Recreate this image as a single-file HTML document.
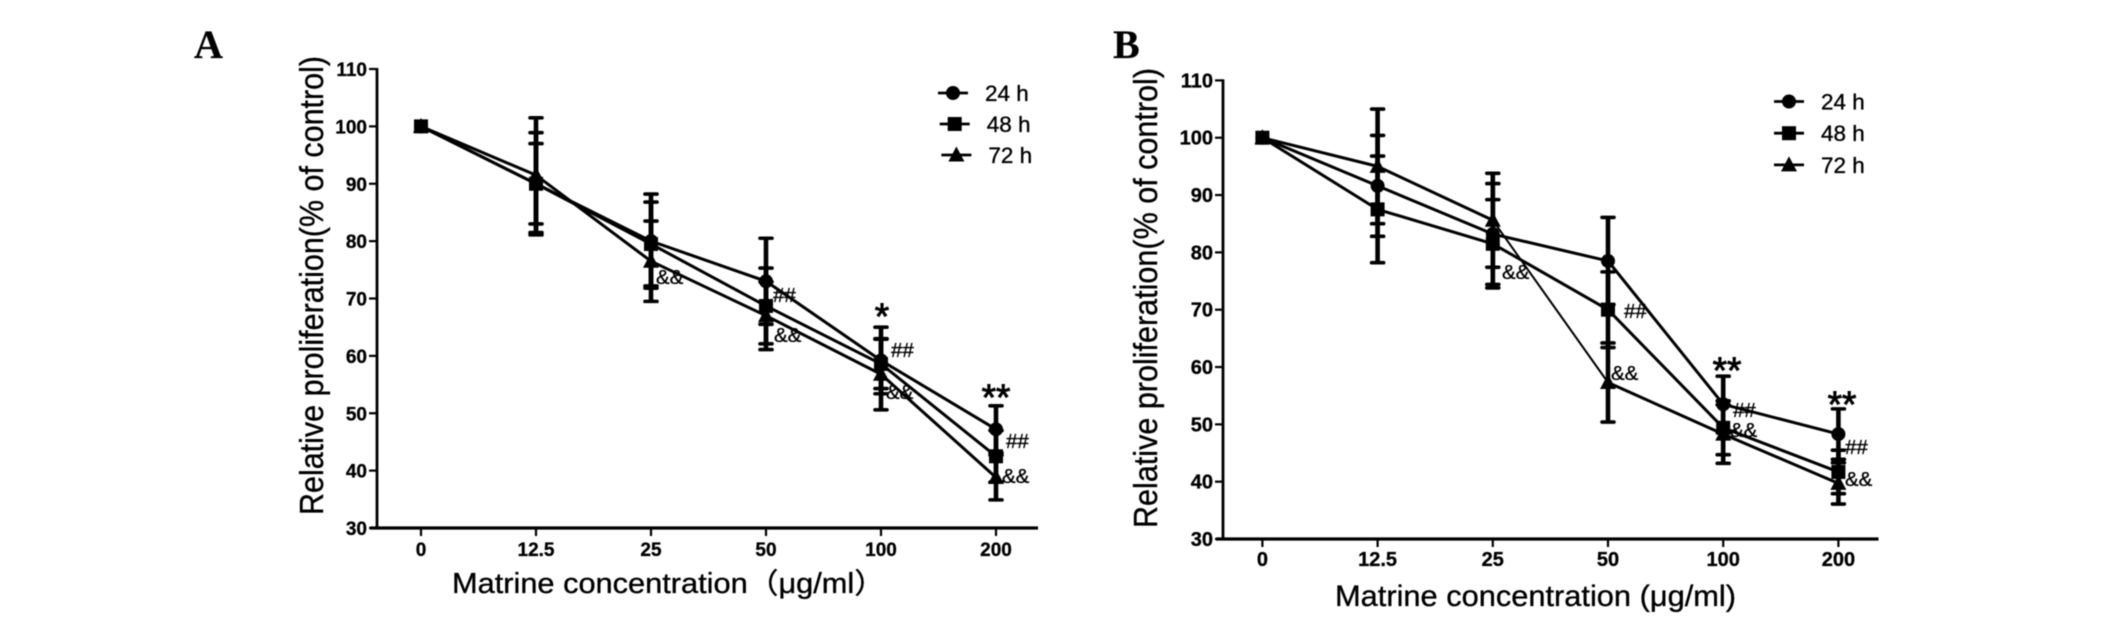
<!DOCTYPE html>
<html lang="en">
<head>
<meta charset="utf-8">
<title>Relative proliferation vs matrine concentration</title>
<style>
html,body{margin:0;padding:0;background:#fff;width:2126px;height:624px;overflow:hidden}
svg{display:block;filter:blur(0.45px)}
text{font-family:"Liberation Sans","Noto Sans CJK SC",sans-serif;fill:#000;stroke:#000;stroke-width:0.35px}
.tick{font-weight:bold;stroke-width:0.3px}
.note{font-size:20.5px}
.star{font-size:37px;stroke-width:0.9px}
.panel{font-family:"Liberation Serif",serif;font-weight:bold;font-size:40px;stroke-width:0.2px}
</style>
</head>
<body>
<svg id="figure" xmlns="http://www.w3.org/2000/svg" width="2126" height="624" viewBox="0 0 2126 624">
  <rect width="2126" height="624" fill="#fff"/>

  <g id="panel-a">
    <text class="panel" x="194" y="58">A</text>
    <text transform="translate(323 515) rotate(-90)" font-size="33" textLength="459" lengthAdjust="spacingAndGlyphs">Relative proliferation(% of control)</text>
    <text x="452" y="593" font-size="28.5" textLength="433" lengthAdjust="spacingAndGlyphs">Matrine concentration（μg/ml）</text>
    <text class="note" x="656" y="284">&amp;&amp;</text>
    <text class="note" x="773" y="302">##</text>
    <text class="note" x="774" y="342">&amp;&amp;</text>
    <text class="star" x="882" y="329" text-anchor="middle">*</text>
    <text class="note" x="891" y="357">##</text>
    <text class="note" x="886" y="399">&amp;&amp;</text>
    <text class="star" x="996" y="410" text-anchor="middle">**</text>
    <text class="note" x="1006" y="448">##</text>
    <text class="note" x="1002" y="483">&amp;&amp;</text>
  </g>

  <g id="panel-b">
    <text class="panel" x="1113" y="58">B</text>
    <text transform="translate(1157 528) rotate(-90)" font-size="33" textLength="460" lengthAdjust="spacingAndGlyphs">Relative proliferation(% of control)</text>
    <text x="1335" y="606" font-size="30" textLength="401" lengthAdjust="spacingAndGlyphs">Matrine concentration (μg/ml)</text>
    <text class="note" x="1502" y="279">&amp;&amp;</text>
    <text class="note" x="1624" y="318">##</text>
    <text class="note" x="1611" y="380">&amp;&amp;</text>
    <text class="star" x="1727" y="383" text-anchor="middle">**</text>
    <text class="note" x="1733" y="417">##</text>
    <text class="note" x="1730" y="437">&amp;&amp;</text>
    <text class="star" x="1842" y="417" text-anchor="middle">**</text>
    <text class="note" x="1845" y="454">##</text>
    <text class="note" x="1845" y="486">&amp;&amp;</text>
  </g>
</svg>

<script>
const categories = ['0', '12.5', '25', '50', '100', '200'];
const yTickLabels = [30, 40, 50, 60, 70, 80, 90, 100, 110];
const seriesLabels = ['24 h', '48 h', '72 h'];

const panelA24Values = [100, 90, 80, 73, 59.2, 47.2];
const panelA48Values = [100, 90, 79.5, 68.7, 58.6, 42.5];
const panelA72Values = [100, 91.5, 76.5, 67, 56.8, 38.8];
const panelA24Errors = [0, 7, 8.2, 7.5, 5.8, 4.1];
const panelA48Errors = [0, 8.9, 7.3, 6.6, 4.3, 4.5];
const panelA72Errors = [0, 10, 7, 5.9, 6.2, 3.9];

const panelB24Values = [100, 91.6, 83.2, 78.5, 53.5, 48.3];
const panelB48Values = [100, 87.5, 81.5, 70, 49.4, 41.7];
const panelB72Values = [100, 95, 85.6, 57.3, 48.3, 39.7];
const panelB24Errors = [0, 8.8, 8.8, 7.6, 4.9, 4.4];
const panelB48Errors = [0, 9.3, 7.7, 6.6, 4.7, 3.8];
const panelB72Errors = [0, 10, 8.2, 6.9, 5.1, 3.6];

const NS = 'http://www.w3.org/2000/svg';

function make(tag, attrs, parent) {
  const node = document.createElementNS(NS, tag);
  for (const key in attrs) node.setAttribute(key, attrs[key]);
  parent.appendChild(node);
  return node;
}

function drawMarker(kind, cx, cy, parent, name) {
  let el;
  if (kind === 0) {
    el = make('circle', { cx: cx, cy: cy, r: 7, fill: '#000' }, parent);
  } else if (kind === 1) {
    el = make('rect', { x: cx - 7, y: cy - 7, width: 14, height: 14, fill: '#000' }, parent);
  } else {
    el = make('polygon', { points: (cx) + ',' + (cy - 8.5) + ' ' + (cx - 8) + ',' + (cy + 6.5) + ' ' + (cx + 8) + ',' + (cy + 6.5), fill: '#000' }, parent);
  }
  
  
}

function drawPanel(p) {
  const root = document.getElementById(p.id);
  const xPos = function (i) { return p.x0 + i * p.xStep; };
  const yPos = function (v) { return p.yBottom - (v - yTickLabels[0]) * (p.yBottom - p.yTop) / (yTickLabels[yTickLabels.length - 1] - yTickLabels[0]); };

  // axes
  const yAxis = make('line', { x1: p.axisX, x2: p.axisX, y1: p.yTop - 1, y2: p.yBottom + 1, stroke: '#000', 'stroke-width': 2.8 }, root);
  
  
  const xAxis = make('line', { x1: p.axisX - 7, x2: p.axisEnd, y1: p.yBottom, y2: p.yBottom, stroke: '#000', 'stroke-width': 3.2 }, root);
  
  

  yTickLabels.forEach(function (v) {
    const tick = make('line', { x1: p.axisX - 8, x2: p.axisX, y1: yPos(v), y2: yPos(v), stroke: '#000', 'stroke-width': 2.2 }, root);
    
    
    const label = make('text', { class: 'tick', x: p.axisX - 10, y: yPos(v) + 7, 'text-anchor': 'end', 'font-size': p.tickFont }, root);
    
    
    label.textContent = v;
  });

  categories.forEach(function (c, i) {
    const tick = make('line', { x1: xPos(i), x2: xPos(i), y1: p.yBottom, y2: p.yBottom + 8, stroke: '#000', 'stroke-width': 2.2 }, root);
    
    
    const label = make('text', { class: 'tick', x: xPos(i), y: p.xLabelY, 'text-anchor': 'middle', 'font-size': p.tickFont }, root);
    
    
    label.textContent = c;
  });

  // series are painted 72 h, 24 h, then 48 h so the squares sit on top
  [2, 0, 1].forEach(function (s) {
    const values = p.values[s];
    const errors = p.errors[s];
    const group = make('g', {}, root);
    
    

    values.forEach(function (v, i) {
      if (errors[i] > 0) {
        const cx = xPos(i);
        const hi = yPos(v + errors[i]);
        const lo = yPos(v - errors[i]);
        const bar = make('line', { x1: cx, x2: cx, y1: hi, y2: lo, stroke: '#000', 'stroke-width': 4.6 }, group);
        
        
        const capHi = make('line', { x1: cx - 6, x2: cx + 6, y1: hi, y2: hi, stroke: '#000', 'stroke-width': 3.6, 'stroke-linecap': 'round' }, group);
        
        
        const capLo = make('line', { x1: cx - 6, x2: cx + 6, y1: lo, y2: lo, stroke: '#000', 'stroke-width': 3.6, 'stroke-linecap': 'round' }, group);
        
        
      }
      if (i < values.length - 1) {
        const thin = p.thinSegment && p.thinSegment[0] === s && p.thinSegment[1] === i;
        const seg = make('line', { x1: xPos(i), y1: yPos(v), x2: xPos(i + 1), y2: yPos(values[i + 1]), stroke: '#000', 'stroke-width': thin ? 2 : 3 }, group);
        
        
      }
    });
    values.forEach(function (v, i) {
      drawMarker(s, xPos(i), yPos(v), group, 'data-point');
    });
  });

  // legend
  seriesLabels.forEach(function (name, s) {
    const lx = p.legendX + s * p.legendDx;
    const ly = p.legendY + s * p.legendDy;
    const entry = make('g', {}, root);
    
    
    const swatch = make('line', { x1: lx, x2: lx + 30, y1: ly, y2: ly, stroke: '#000', 'stroke-width': 2.8 }, entry);
    
    
    drawMarker(s, lx + 15, ly, entry, 'legend-marker');
    const label = make('text', { x: lx + 47, y: ly + 8, 'font-size': 22.5 }, entry);
    
    
    label.textContent = name;
  });
}

drawPanel({
  id: 'panel-a', prefix: 'panel-a',
  x0: 421, xStep: 115, yTop: 69, yBottom: 528, axisX: 377, axisEnd: 1038,
  xLabelY: 556, tickFont: 19,
  legendX: 938, legendY: 93, legendDx: 1.7, legendDy: 31,
  values: [panelA24Values, panelA48Values, panelA72Values],
  errors: [panelA24Errors, panelA48Errors, panelA72Errors]
});

drawPanel({
  id: 'panel-b', prefix: 'panel-b',
  x0: 1262.4, xStep: 115.2, yTop: 80.4, yBottom: 539, axisX: 1223, axisEnd: 1878.5,
  xLabelY: 566, tickFont: 20,
  legendX: 1774, legendY: 101.5, legendDx: 0, legendDy: 31.7,
  values: [panelB24Values, panelB48Values, panelB72Values],
  errors: [panelB24Errors, panelB48Errors, panelB72Errors],
  thinSegment: [2, 2]
});
</script>
</body>
</html>
